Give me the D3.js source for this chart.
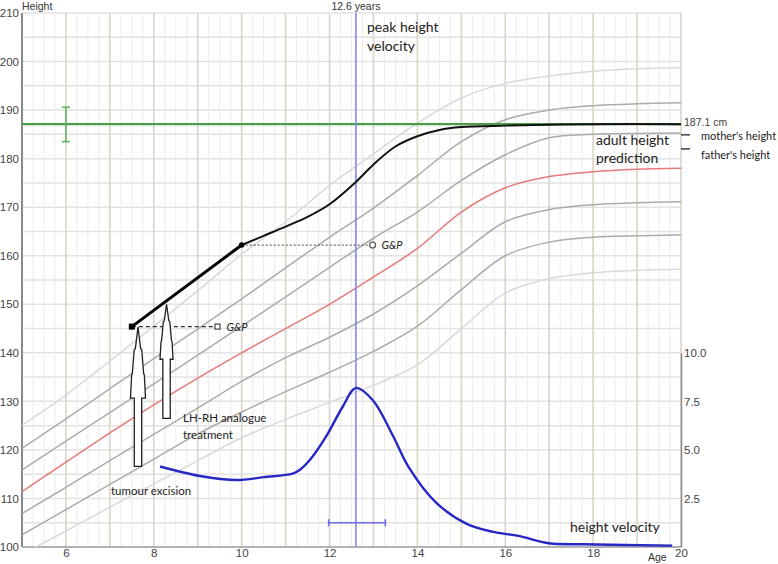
<!DOCTYPE html>
<html>
<head>
<meta charset="utf-8">
<script src="https://cdn.jsdelivr.net/npm/d3@7"></script>
<style>
  body { margin: 0; background: #fff; }
  text { font-family: "Liberation Sans", Arial, sans-serif; }
  .note { font-family: Lato, "Comic Sans MS", sans-serif; fill: #222; }
</style>
</head>
<body>
<script>
// growth reference lines (height, cm) at each age
const ages = [5, 6, 7, 8, 9, 10, 11, 12, 13, 14, 15, 16, 17, 18, 19, 20];
const sdPlus3  = [125.1, 131.3, 138.3, 145.5, 152.8, 160.3, 167.0, 174.5, 181.0, 187.3, 192.5, 195.5, 197.0, 198.0, 198.5, 198.7];
const sdPlus2  = [120.3, 126.4, 132.6, 138.8, 144.9, 151.1, 157.5, 163.8, 169.8, 176.5, 183.5, 188.0, 190.0, 190.9, 191.3, 191.5];
const sdPlus1  = [115.9, 121.8, 127.7, 133.6, 139.5, 145.5, 151.5, 157.6, 163.6, 169.0, 175.5, 180.8, 184.3, 185.0, 185.2, 185.3];
const median   = [111.4, 117.5, 123.5, 129.3, 134.8, 140.0, 145.0, 150.0, 155.6, 161.5, 169.0, 174.0, 176.3, 177.3, 177.8, 178.0];
const sdMinus1 = [106.9, 112.3, 117.8, 123.2, 128.6, 134.1, 139.0, 143.2, 148.0, 153.8, 160.5, 167.0, 169.5, 170.5, 170.9, 171.1];
const sdMinus2 = [102.5, 107.7, 112.9, 118.1, 123.3, 127.8, 132.0, 136.0, 140.3, 145.5, 153.0, 160.0, 162.8, 163.8, 164.1, 164.3];
const sdMinus3 = [98.5, 103.3, 108.2, 113.0, 117.8, 122.5, 126.3, 129.8, 133.3, 137.5, 145.0, 152.3, 155.3, 156.5, 157.0, 157.2];

// patient
const measuredAges = [7.5, 10];
const measuredHeights = [145.4, 162.2];
const predictedAges = [10, 10.5, 11, 11.5, 12, 12.6, 13, 13.5, 14, 14.5, 15, 16, 17, 18, 20];
const predictedHeights = [162.2, 164.1, 166.0, 168.0, 170.6, 175.2, 178.8, 182.5, 184.6, 185.9, 186.5, 186.8, 187.0, 187.1, 187.1];

// Greulich & Pyle bone age projections
const boneAgeFrom = [7.5, 10];
const boneAgeTo = [9.45, 12.98];
const boneAgeHeights = [145.4, 162.2];

// height velocity (cm/year)
const velAges = [8.14, 9.05, 9.88, 10.5, 11.16, 11.32, 11.55, 11.92, 12.3, 12.6, 12.98, 13.44, 13.78, 14.42, 15.1, 15.7, 16.3, 17.0, 17.8, 19.8];
const velValues = [4.15, 3.66, 3.45, 3.6, 3.78, 3.97, 4.48, 5.69, 7.23, 8.2, 7.58, 5.75, 4.2, 2.3, 1.22, 0.79, 0.57, 0.19, 0.14, 0.07];
const peakAge = 12.6;
const peakRange = [11.98, 13.27];
const peakBarVel = 1.25;

// target height
const targetHeight = 187.1;
const targetRange = [183.5, 190.6];
const targetAge = 6;
const motherMark = 184.9;
const fatherMark = 182.0;

// treatment arrows: age, tip height, foot height
const arrowAges = [7.64, 8.29];
const arrowTips = [145.3, 150.0];
const arrowFeet = [116.6, 126.5];

const heightTicks = d3.range(100, 211, 10);
const ageTicks = [6, 8, 10, 12, 14, 16, 18, 20];
const velTicks = [2.5, 5, 7.5, 10];

const width = 778, height = 564;

const svg = d3.select('body').append('svg')
  .attr('width', width)
  .attr('height', height);

const x = d3.scaleLinear().domain([5, 20]).range([22, 681]);
const y = d3.scaleLinear().domain([100, 210]).range([547, 13]);
const yv = d3.scaleLinear().domain([0, 10]).range([547, 353]);

/////////////////////////
// grid

const grid = svg.append('g');
grid.selectAll('.hgrid').data(d3.range(105, 211, 5))
  .join('line')
  .attr('x1', x(5)).attr('x2', x(20))
  .attr('y1', d => y(d)).attr('y2', d => y(d))
  .attr('stroke', '#e2e2e2').attr('stroke-width', 1.5);

grid.selectAll('.vminor').data(d3.range(5.25, 20, 0.25).filter(d => d % 1 !== 0))
  .join('line')
  .attr('x1', d => x(d)).attr('x2', d => x(d))
  .attr('y1', y(210)).attr('y2', y(100))
  .attr('stroke', '#ebebeb').attr('stroke-width', 1);

grid.selectAll('.vmajor').data(d3.range(6, 21, 1))
  .join('line')
  .attr('x1', d => x(d)).attr('x2', d => x(d))
  .attr('y1', y(210)).attr('y2', y(100))
  .attr('stroke', '#dad6cb').attr('stroke-width', 1.7);

/////////////////////////
// axes

const axisLeft = svg.append('g')
  .attr('transform', `translate(${x(5)},0)`)
  .call(d3.axisLeft(y).tickValues(heightTicks).tickSize(0).tickPadding(3));
axisLeft.select('.domain').remove();
axisLeft.selectAll('text').attr('font-size', 11.5).attr('fill', '#444')
  .style('font-family', '"Liberation Sans", Arial, sans-serif');

const axisBottom = svg.append('g')
  .attr('transform', `translate(0,${y(100)})`)
  .call(d3.axisBottom(x).tickValues(ageTicks).tickSize(0).tickPadding(2));
axisBottom.select('.domain').remove();
axisBottom.selectAll('text').attr('font-size', 11.5).attr('fill', '#444')
  .style('font-family', '"Liberation Sans", Arial, sans-serif');

const axisRight = svg.append('g')
  .attr('transform', `translate(${x(20)},0)`)
  .call(d3.axisRight(yv).tickValues(velTicks).tickFormat(d3.format('.1f')).tickSize(0).tickSizeOuter(0).tickPadding(3));
axisRight.select('.domain').attr('stroke', '#8a8a8a').attr('stroke-width', 1.5);
axisRight.selectAll('text').attr('font-size', 11.5).attr('fill', '#444')
  .style('font-family', '"Liberation Sans", Arial, sans-serif');

svg.append('line')
  .attr('x1', x(5)).attr('x2', x(5)).attr('y1', y(210)).attr('y2', y(100))
  .attr('stroke', '#8a8a8a').attr('stroke-width', 2);
svg.append('line')
  .attr('x1', x(5)).attr('x2', x(20)).attr('y1', y(100)).attr('y2', y(100))
  .attr('stroke', '#9a9a9a').attr('stroke-width', 1.5);

svg.append('text').text('Height')
  .attr('x', 22).attr('y', 10).attr('font-size', 10.5).attr('fill', '#333');
svg.append('text').text('Age')
  .attr('x', 648).attr('y', 561).attr('font-size', 10.5).attr('fill', '#333');

/////////////////////////
// reference lines

const refLines = [
  {values: sdMinus3, color: '#d9d9d9'},
  {values: sdPlus3, color: '#d9d9d9'},
  {values: sdMinus2, color: '#ababab'},
  {values: sdPlus2, color: '#ababab'},
  {values: sdMinus1, color: '#ababab'},
  {values: sdPlus1, color: '#ababab'},
  {values: median, color: '#e67a7a'}
];

const smoothLine = d3.line()
  .x(d => x(d[0]))
  .y(d => y(d[1]))
  .curve(d3.curveCatmullRom.alpha(0.5));

const plot = svg.append('g');
plot.append('clipPath').attr('id', 'clip')
  .append('rect').attr('x', x(5)).attr('y', y(210)).attr('width', x(20) - x(5)).attr('height', y(100) - y(210));

plot.append('g').attr('clip-path', 'url(#clip)')
  .selectAll('path').data(refLines)
  .join('path')
  .attr('d', d => smoothLine(ages.map((a, i) => [a, d.values[i]])))
  .attr('fill', 'none')
  .attr('stroke', d => d.color)
  .attr('stroke-width', 1.5);

/////////////////////////
// target height

svg.append('line')
  .attr('x1', x(5)).attr('x2', x(20))
  .attr('y1', y(targetHeight)).attr('y2', y(targetHeight))
  .attr('stroke', '#4a9e48').attr('stroke-width', 2.2);

const tbar = svg.append('g').attr('stroke', '#62ad5e').attr('stroke-width', 1.5);
tbar.append('line')
  .attr('x1', x(targetAge)).attr('x2', x(targetAge))
  .attr('y1', y(targetRange[1])).attr('y2', y(targetRange[0]));
tbar.selectAll('.cap').data(targetRange)
  .join('line')
  .attr('x1', x(targetAge) - 4).attr('x2', x(targetAge) + 4)
  .attr('y1', d => y(d)).attr('y2', d => y(d));

svg.append('text').text('187.1 cm')
  .attr('x', x(20) + 3).attr('y', y(targetHeight) + 2)
  .attr('font-size', 10.5).attr('fill', '#444');

/////////////////////////
// peak height velocity

svg.append('line')
  .attr('x1', x(peakAge)).attr('x2', x(peakAge))
  .attr('y1', y(210)).attr('y2', y(100))
  .attr('stroke', '#8585f5').attr('stroke-width', 1.6);
svg.append('text').text('12.6 years')
  .attr('x', x(peakAge)).attr('y', 10).attr('text-anchor', 'middle')
  .attr('font-size', 10.5).attr('fill', '#333');

const pbar = svg.append('g').attr('stroke', '#6b6be6').attr('stroke-width', 1.6);
pbar.append('line')
  .attr('x1', x(peakRange[0])).attr('x2', x(peakRange[1]))
  .attr('y1', yv(peakBarVel)).attr('y2', yv(peakBarVel));
pbar.selectAll('.cap').data(peakRange)
  .join('line')
  .attr('x1', d => x(d)).attr('x2', d => x(d))
  .attr('y1', yv(peakBarVel) - 3.5).attr('y2', yv(peakBarVel) + 3.5);

/////////////////////////
// velocity curve

const velLine = d3.line()
  .x(d => x(d[0]))
  .y(d => yv(d[1]))
  .curve(d3.curveCatmullRom.alpha(0.5));

svg.append('path')
  .attr('d', velLine(velAges.map((a, i) => [a, velValues[i]])))
  .attr('fill', 'none')
  .attr('stroke', '#2727c4')
  .attr('stroke-width', 2.4);

/////////////////////////
// bone age projections

const gp = svg.append('g');
gp.selectAll('line').data(boneAgeFrom)
  .join('line')
  .attr('x1', d => x(d))
  .attr('x2', (d, i) => x(boneAgeTo[i]))
  .attr('y1', (d, i) => y(boneAgeHeights[i]))
  .attr('y2', (d, i) => y(boneAgeHeights[i]))
  .attr('stroke', (d, i) => i === 0 ? '#333' : '#666')
  .attr('stroke-width', (d, i) => i === 0 ? 1.4 : 1.2)
  .attr('stroke-dasharray', (d, i) => i === 0 ? '4,3' : '2,2');

gp.append('rect')
  .attr('x', x(boneAgeTo[0]) - 2.5).attr('y', y(boneAgeHeights[0]) - 2.5)
  .attr('width', 5).attr('height', 5)
  .attr('fill', '#fff').attr('stroke', '#444').attr('stroke-width', 1.2);
gp.append('circle')
  .attr('cx', x(boneAgeTo[1])).attr('cy', y(boneAgeHeights[1])).attr('r', 3)
  .attr('fill', '#fff').attr('stroke', '#555').attr('stroke-width', 1.2);

gp.selectAll('text').data(boneAgeTo)
  .join('text')
  .text('G&P')
  .attr('class', 'note')
  .attr('x', d => x(d) + 9)
  .attr('y', (d, i) => y(boneAgeHeights[i]) + 4)
  .attr('font-size', 11)
  .attr('font-style', 'italic');

/////////////////////////
// patient

svg.append('path')
  .attr('d', smoothLine(predictedAges.map((a, i) => [a, predictedHeights[i]])))
  .attr('fill', 'none')
  .attr('stroke', '#111')
  .attr('stroke-width', 2);

svg.append('path')
  .attr('d', smoothLine(measuredAges.map((a, i) => [a, measuredHeights[i]])))
  .attr('fill', 'none')
  .attr('stroke', '#000')
  .attr('stroke-width', 3);

svg.append('rect')
  .attr('x', x(measuredAges[0]) - 3).attr('y', y(measuredHeights[0]) - 3)
  .attr('width', 6).attr('height', 6).attr('fill', '#000');
svg.append('circle')
  .attr('cx', x(measuredAges[1])).attr('cy', y(measuredHeights[1])).attr('r', 2.8)
  .attr('fill', '#000');

/////////////////////////
// treatment arrows

const headLen = [71, 55];
const headHalf = [7.5, 6.5];
const shaftHalf = 3.7;

svg.append('g').selectAll('path').data(arrowAges)
  .join('path')
  .attr('d', (d, i) => {
    const cx = x(d), tip = y(arrowTips[i]), foot = y(arrowFeet[i]);
    const base = tip + headLen[i], hw = headHalf[i];
    return `M${cx},${tip}` +
      `L${cx + hw * 0.35},${tip + headLen[i] * 0.3}L${cx + hw * 0.5},${tip + headLen[i] * 0.32}` +
      `L${cx + hw * 0.75},${tip + headLen[i] * 0.65}L${cx + hw * 0.85},${tip + headLen[i] * 0.68}` +
      `L${cx + hw},${base}L${cx + shaftHalf},${base}L${cx + shaftHalf},${foot}` +
      `L${cx - shaftHalf},${foot}L${cx - shaftHalf},${base}L${cx - hw},${base}` +
      `L${cx - hw * 0.85},${tip + headLen[i] * 0.68}L${cx - hw * 0.75},${tip + headLen[i] * 0.65}` +
      `L${cx - hw * 0.5},${tip + headLen[i] * 0.32}L${cx - hw * 0.35},${tip + headLen[i] * 0.3}Z`;
  })
  .attr('fill', '#fff')
  .attr('stroke', '#222')
  .attr('stroke-width', 1.3);

/////////////////////////
// parent marks

svg.selectAll('.parent').data([motherMark, fatherMark])
  .join('line')
  .attr('x1', x(20)).attr('x2', x(20) + 9)
  .attr('y1', d => y(d)).attr('y2', d => y(d))
  .attr('stroke', '#111').attr('stroke-width', 1.2);

/////////////////////////
// annotations

const notes = [
  {text: 'peak height', x: 367, y: 32, size: 14},
  {text: 'velocity', x: 367, y: 51, size: 14},
  {text: 'adult height', x: 596, y: 145, size: 14},
  {text: 'prediction', x: 596, y: 163, size: 14},
  {text: "mother's height", x: 701, y: 140, size: 11},
  {text: "father's height", x: 701, y: 159, size: 11},
  {text: 'LH-RH analogue', x: 183, y: 422, size: 11.5},
  {text: 'treatment', x: 183, y: 439, size: 11.5},
  {text: 'tumour excision', x: 111, y: 495, size: 11.5},
  {text: 'height velocity', x: 570, y: 532, size: 14}
];

svg.append('g').selectAll('text').data(notes)
  .join('text')
  .attr('class', 'note')
  .attr('x', d => d.x)
  .attr('y', d => d.y)
  .attr('font-size', d => d.size)
  .text(d => d.text);
</script>
</body>
</html>
